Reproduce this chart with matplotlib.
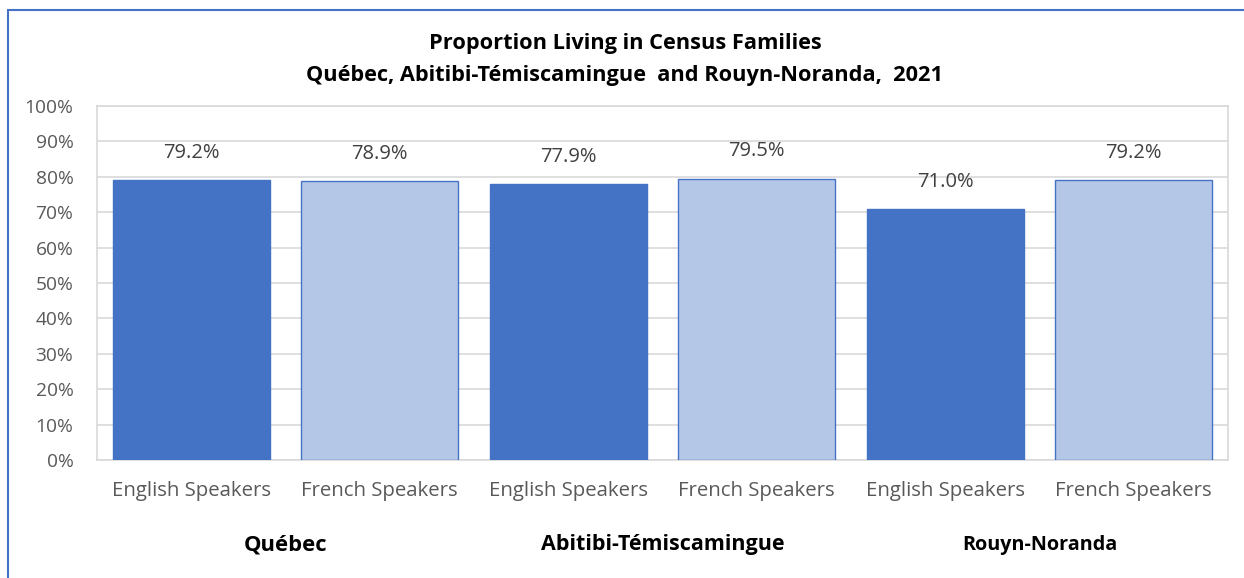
import matplotlib.pyplot as plt
from matplotlib.patches import Rectangle
from matplotlib.ticker import FuncFormatter

regions = ["Québec", "Abitibi-Témiscamingue", "Rouyn-Noranda"]
groups = ["English Speakers", "French Speakers"]
english = [79.2, 77.9, 71.0]
french = [78.9, 79.5, 79.2]
yticks = list(range(0, 101, 10))

plt.rcParams['font.family'] = ['Open Sans', 'DejaVu Sans']

fig = plt.figure(figsize=(12.44, 5.78), dpi=100)
W, H = 1244, 578
ax = fig.add_axes([97 / W, 1 - 460 / H, (1228 - 97) / W, (460 - 106) / H])

dark = "#4472C4"
light = "#B4C7E7"
values, colors, labels = [], [], []
for e, f in zip(english, french):
    values += [e, f]
    colors += [dark, light]
    labels += groups
x = list(range(len(values)))
ax.bar(x, values, width=0.835, color=colors, edgecolor=dark, linewidth=1.0, zorder=3)
for xi, v in zip(x, values):
    ax.annotate(f"{v:.1f}%", (xi, v), xytext=(0, 19.5), textcoords="offset points",
                ha="center", va="center", fontsize=14.5, color="#404040")

ax.set_xlim(-0.5, len(values) - 0.5)
ax.set_ylim(0, 100)
ax.set_yticks(yticks)
ax.yaxis.set_major_formatter(FuncFormatter(lambda v, p: f"{v:.0f}%"))
ax.set_xticks(x)
ax.set_xticklabels(labels)
ax.tick_params(axis='both', length=0, labelcolor="#595959")
ax.tick_params(axis='x', pad=15, labelsize=14.7)
ax.tick_params(axis='y', pad=17, labelsize=13.8)
ax.grid(axis='y', color="#D9D9D9", linewidth=1.2, zorder=0)
for s in ax.spines.values():
    s.set_color("#D9D9D9")
    s.set_linewidth(1.2)

region_sizes = [15.8, 15.5, 14.2]
for i, (r, fs) in enumerate(zip(regions, region_sizes)):
    ax.text(2 * i + 0.5, -0.24, r, transform=ax.get_xaxis_transform(), ha="center",
            va="center", fontsize=fs, fontweight="bold", color="black")

fig.text(625 / W, 1 - 44 / H, "Proportion Living in Census Families", ha="center", va="center",
         fontsize=15.7, fontweight="bold", color="black")
fig.text(625 / W, 1 - 75 / H, "Québec, Abitibi-Témiscamingue  and Rouyn-Noranda,  2021",
         ha="center", va="center", fontsize=15.7, fontweight="bold", color="black")

fig.patches.append(Rectangle((8 / W, -0.05), 1.2, 1 - 10 / H + 0.05, transform=fig.transFigure,
                             fill=False, edgecolor="#4472C4", linewidth=1.5))

fig.savefig("out.png", dpi=100)
